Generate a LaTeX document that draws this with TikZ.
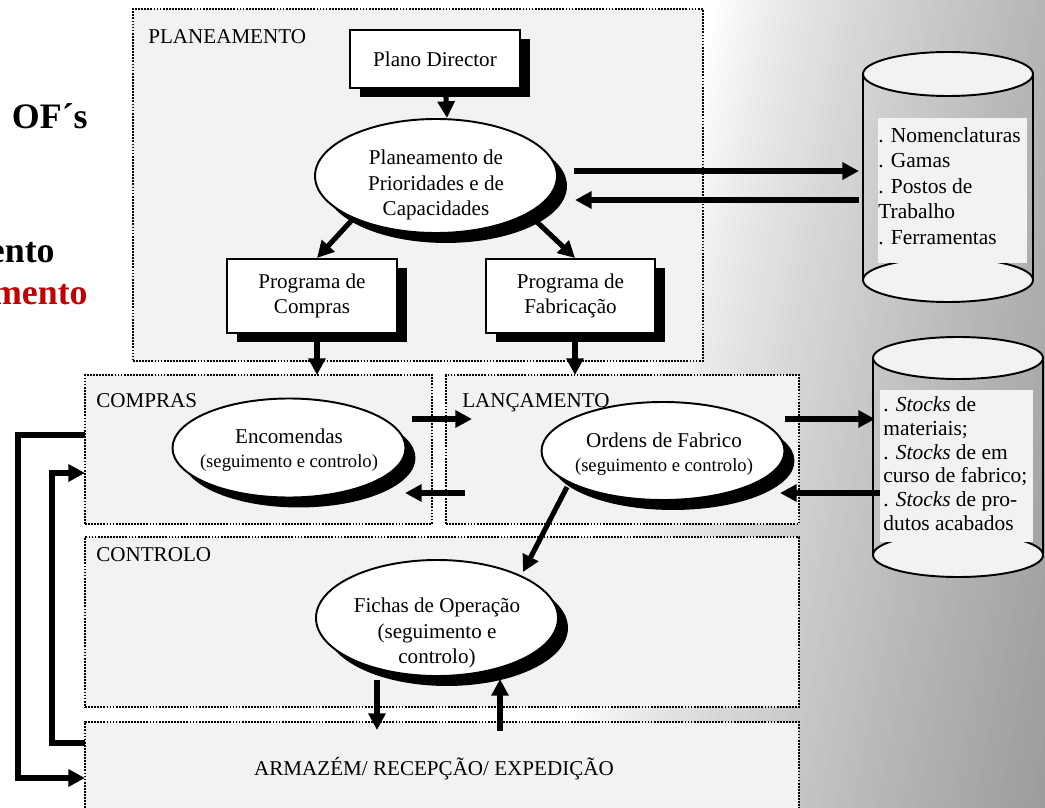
\documentclass[tikz,border=0pt]{standalone}
\usepackage{fontspec}
\setmainfont{Liberation Serif}
\usetikzlibrary{arrows.meta,shapes.geometric,shadows,calc}
\definecolor{boxfill}{HTML}{F2F2F2}
\definecolor{redtxt}{HTML}{C00000}
\begin{document}
\begin{tikzpicture}[x=0.02cm, y=-0.02cm,
  sz/.style 2 args={minimum width=#1*0.02cm, minimum height=#2*0.02cm, inner sep=0pt, outer sep=0pt},
  areabox/.style={rectangle, draw=black, fill=boxfill, line width=1.1pt, dash pattern=on 1pt off 0.75pt},
  arealbl/.style={anchor=base west, inner sep=0pt, font=\fontsize{12}{14}\selectfont},
  sbox/.style={rectangle, draw=black, fill=white, line width=1.1pt, align=center,
     font=\fontsize{12}{14.3}\selectfont,
     general shadow={fill=black, shadow xshift=5.67pt, shadow yshift=-5.1pt}},
  soval/.style={ellipse, draw=black, fill=white, line width=1.1pt,
     general shadow={fill=black, shadow xshift=5.67pt, shadow yshift=-5.67pt}},
  otxt/.style={align=center, inner sep=0pt, font=\fontsize{12}{14.3}\selectfont},
  cyltxt/.style={align=left, inner sep=0pt, anchor=north west},
  cylline/.style={draw=black, line width=1.1pt},
  arr/.style={line width=2.9pt, -{Triangle[length=9.5pt,width=9.5pt]}},
  sidetxt/.style={anchor=base east, inner sep=0pt, font=\fontsize{20.4}{24}\selectfont\bfseries}
]
\useasboundingbox (0,0) rectangle (1045,808);
\clip (0,0) rectangle (1045,808);
% background
\fill[white] (0,0) rectangle (1045,808);
\foreach \i in {0,...,59}{
  \pgfmathsetmacro\va{720+\i*8.15}
  \pgfmathsetmacro\vb{\va+9.5}
  \pgfmathsetmacro\pc{39*((\i+0.5)/60)^0.75}
  \fill[black!\pc] (\va,0) -- (\vb,0) -- (\vb-162,808) -- (\va-162,808) -- cycle;
}
% side texts
\node[sidetxt] (ofs) at (88,128) {OF´s};
\node[sidetxt] (ento) at (55,262) {ento};
\node[sidetxt, text=redtxt] (mento) at (88,304) {mento};
% areas
\node[areabox, sz={570}{352}] (planbox) at (418,185) {};
\node[areabox, sz={347}{149}] (compbox) at (258.5,449.5) {};
\node[areabox, sz={353}{149}] (lancbox) at (622.5,449.5) {};
\node[areabox, sz={714}{170}] (ctrlbox) at (442,622) {};
\node[areabox, sz={714}{108}] (armbox) at (442,776) {};
\node[arealbl] (planlbl) at (148,43) {PLANEAMENTO};
\node[arealbl] (complbl) at (96,407) {COMPRAS};
\node[arealbl] (lanclbl) at (462,407) {LANÇAMENTO};
\node[arealbl] (ctrllbl) at (96,561) {CONTROLO};
\node[otxt] (armT) at (434,769) {ARMAZÉM/ RECEPÇÃO/ EXPEDIÇÃO};
% rectangles
\node[sbox, sz={170}{58}] (plano) at (435,59) {Plano Director};
\node[sbox, sz={170}{74}] (progcomp) at (312,296) {Programa de\\Compras};
\node[sbox, sz={169}{74}] (progfab) at (570.5,296) {Programa de\\Fabricação};
% ellipses
\node[soval, sz={242}{114}] (plan) at (436,176) {};
\node[otxt] (planT) at (436,185) {Planeamento de\\Prioridades e de\\Capacidades};
\node[soval, sz={233}{99}] (enc) at (289,448) {};
\node[otxt, font=\fontsize{12}{13.5}\selectfont] (encT) at (289,450) {Encomendas\\{\fontsize{10.6}{13.5}\selectfont (seguimento e controlo)}};
\node[soval, sz={243}{98}] (ord) at (663,451) {};
\node[otxt, font=\fontsize{12}{13.5}\selectfont] (ordT) at (664,454) {Ordens de Fabrico\\{\fontsize{10.6}{13.5}\selectfont (seguimento e controlo)}};
\node[soval, sz={242}{116}] (fichas) at (437,618) {};
\node[otxt] (fichT) at (437,633) {Fichas de Operação\\(seguimento e\\controlo)};
% cylinder 1
\node[sz={170}{250}] (nomCyl) at (948,177) {};
\draw[cylline] ($(nomCyl.north west)+(0,22)$) -- ($(nomCyl.south west)+(0,-22)$);
\draw[cylline] ($(nomCyl.north east)+(0,22)$) -- ($(nomCyl.south east)+(0,-22)$);
\draw[cylline, fill=boxfill] ($(nomCyl.south)+(0,-22)$) ellipse [x radius=85, y radius=22];
\draw[cylline, fill=boxfill] ($(nomCyl.north)+(0,22)$) ellipse [x radius=85, y radius=22];
\node[fill=boxfill, sz={149}{145}, anchor=north west] (nomBox) at (878,118) {};
\node[cyltxt, font=\fontsize{12.2}{14.5}\selectfont] (nomT) at (878,127) {. Nomenclaturas\\. Gamas\\. Postos de\\Trabalho\\. Ferramentas};
% cylinder 2
\node[sz={170}{240}] (stCyl) at (958,457) {};
\draw[cylline] ($(stCyl.north west)+(0,21)$) -- ($(stCyl.south west)+(0,-22)$);
\draw[cylline] ($(stCyl.north east)+(0,21)$) -- ($(stCyl.south east)+(0,-22)$);
\draw[cylline, fill=boxfill] ($(stCyl.south)+(0,-22)$) ellipse [x radius=85, y radius=22];
\draw[cylline, fill=boxfill] ($(stCyl.north)+(0,21)$) ellipse [x radius=85, y radius=21];
\node[fill=boxfill, sz={153}{152}, anchor=north west] (stBox) at (880,390) {};
\node[cyltxt, font=\fontsize{12.2}{13.6}\selectfont] (stT) at (883,396) {. \textit{Stocks} de\\materiais;\\. \textit{Stocks} de em\\curso de fabrico;\\. \textit{Stocks} de pro-\\dutos acabados};
% arrows
\draw[arr] ($(plano.south)+(11,9)$) -- ($(plan.north)+(11,-1)$);
\draw[arr] ($(plan.center)+(-84,44)$) -- ($(progcomp.north)+(5,-1)$);
\draw[arr] ($(plan.center)+(101,46)$) -- ($(progfab.north)+(4.5,-1)$);
\draw[arr] ($(progcomp.south)+(5,9)$) -- ($(compbox.north -| progcomp.south)+(5,0)$);
\draw[arr] ($(progfab.south)+(4.5,9)$) -- ($(lancbox.north -| progfab.south)+(4.5,0)$);
\draw[arr] ($(compbox.east)+(-20,-30.5)$) -- ($(lancbox.west)+(26,-30.5)$);
\draw[arr] ($(lancbox.west)+(19,43.5)$) -- ($(compbox.east)+(-27,43.5)$);
\draw[arr] ($(plan.east)+(17,-5)$) -- ($(nomCyl.west)+(-4,-6)$);
\draw[arr] ($(nomCyl.west)+(-4,23)$) -- ($(plan.east)+(18,24)$);
\draw[arr] ($(ord.east)+(0,-32)$) -- ($(stCyl.west)+(2,-38)$);
\draw[arr] ($(stCyl.west)+(7,36)$) -- ($(ord.east)+(-4.5,42)$);
\draw[arr] ($(ord.center)+(-96,36)$) -- ($(fichas.center)+(86,-46)$);
\draw[arr] ($(fichas.center)+(-60,62)$) -- ($(armbox.north)+(-65,8)$);
\draw[arr] ($(armbox.north)+(58,9)$) -- ($(fichas.center)+(63,61)$);
\draw[arr] ($(compbox.west)+(0,-14.5)$) -- ++(-67,0) |- ($(armbox.west)+(0,2)$);
\draw[arr] ($(armbox.west)+(0,-33)$) -- ++(-33,0) |- ($(compbox.west)+(0,23.5)$);
\end{tikzpicture}
\end{document}
